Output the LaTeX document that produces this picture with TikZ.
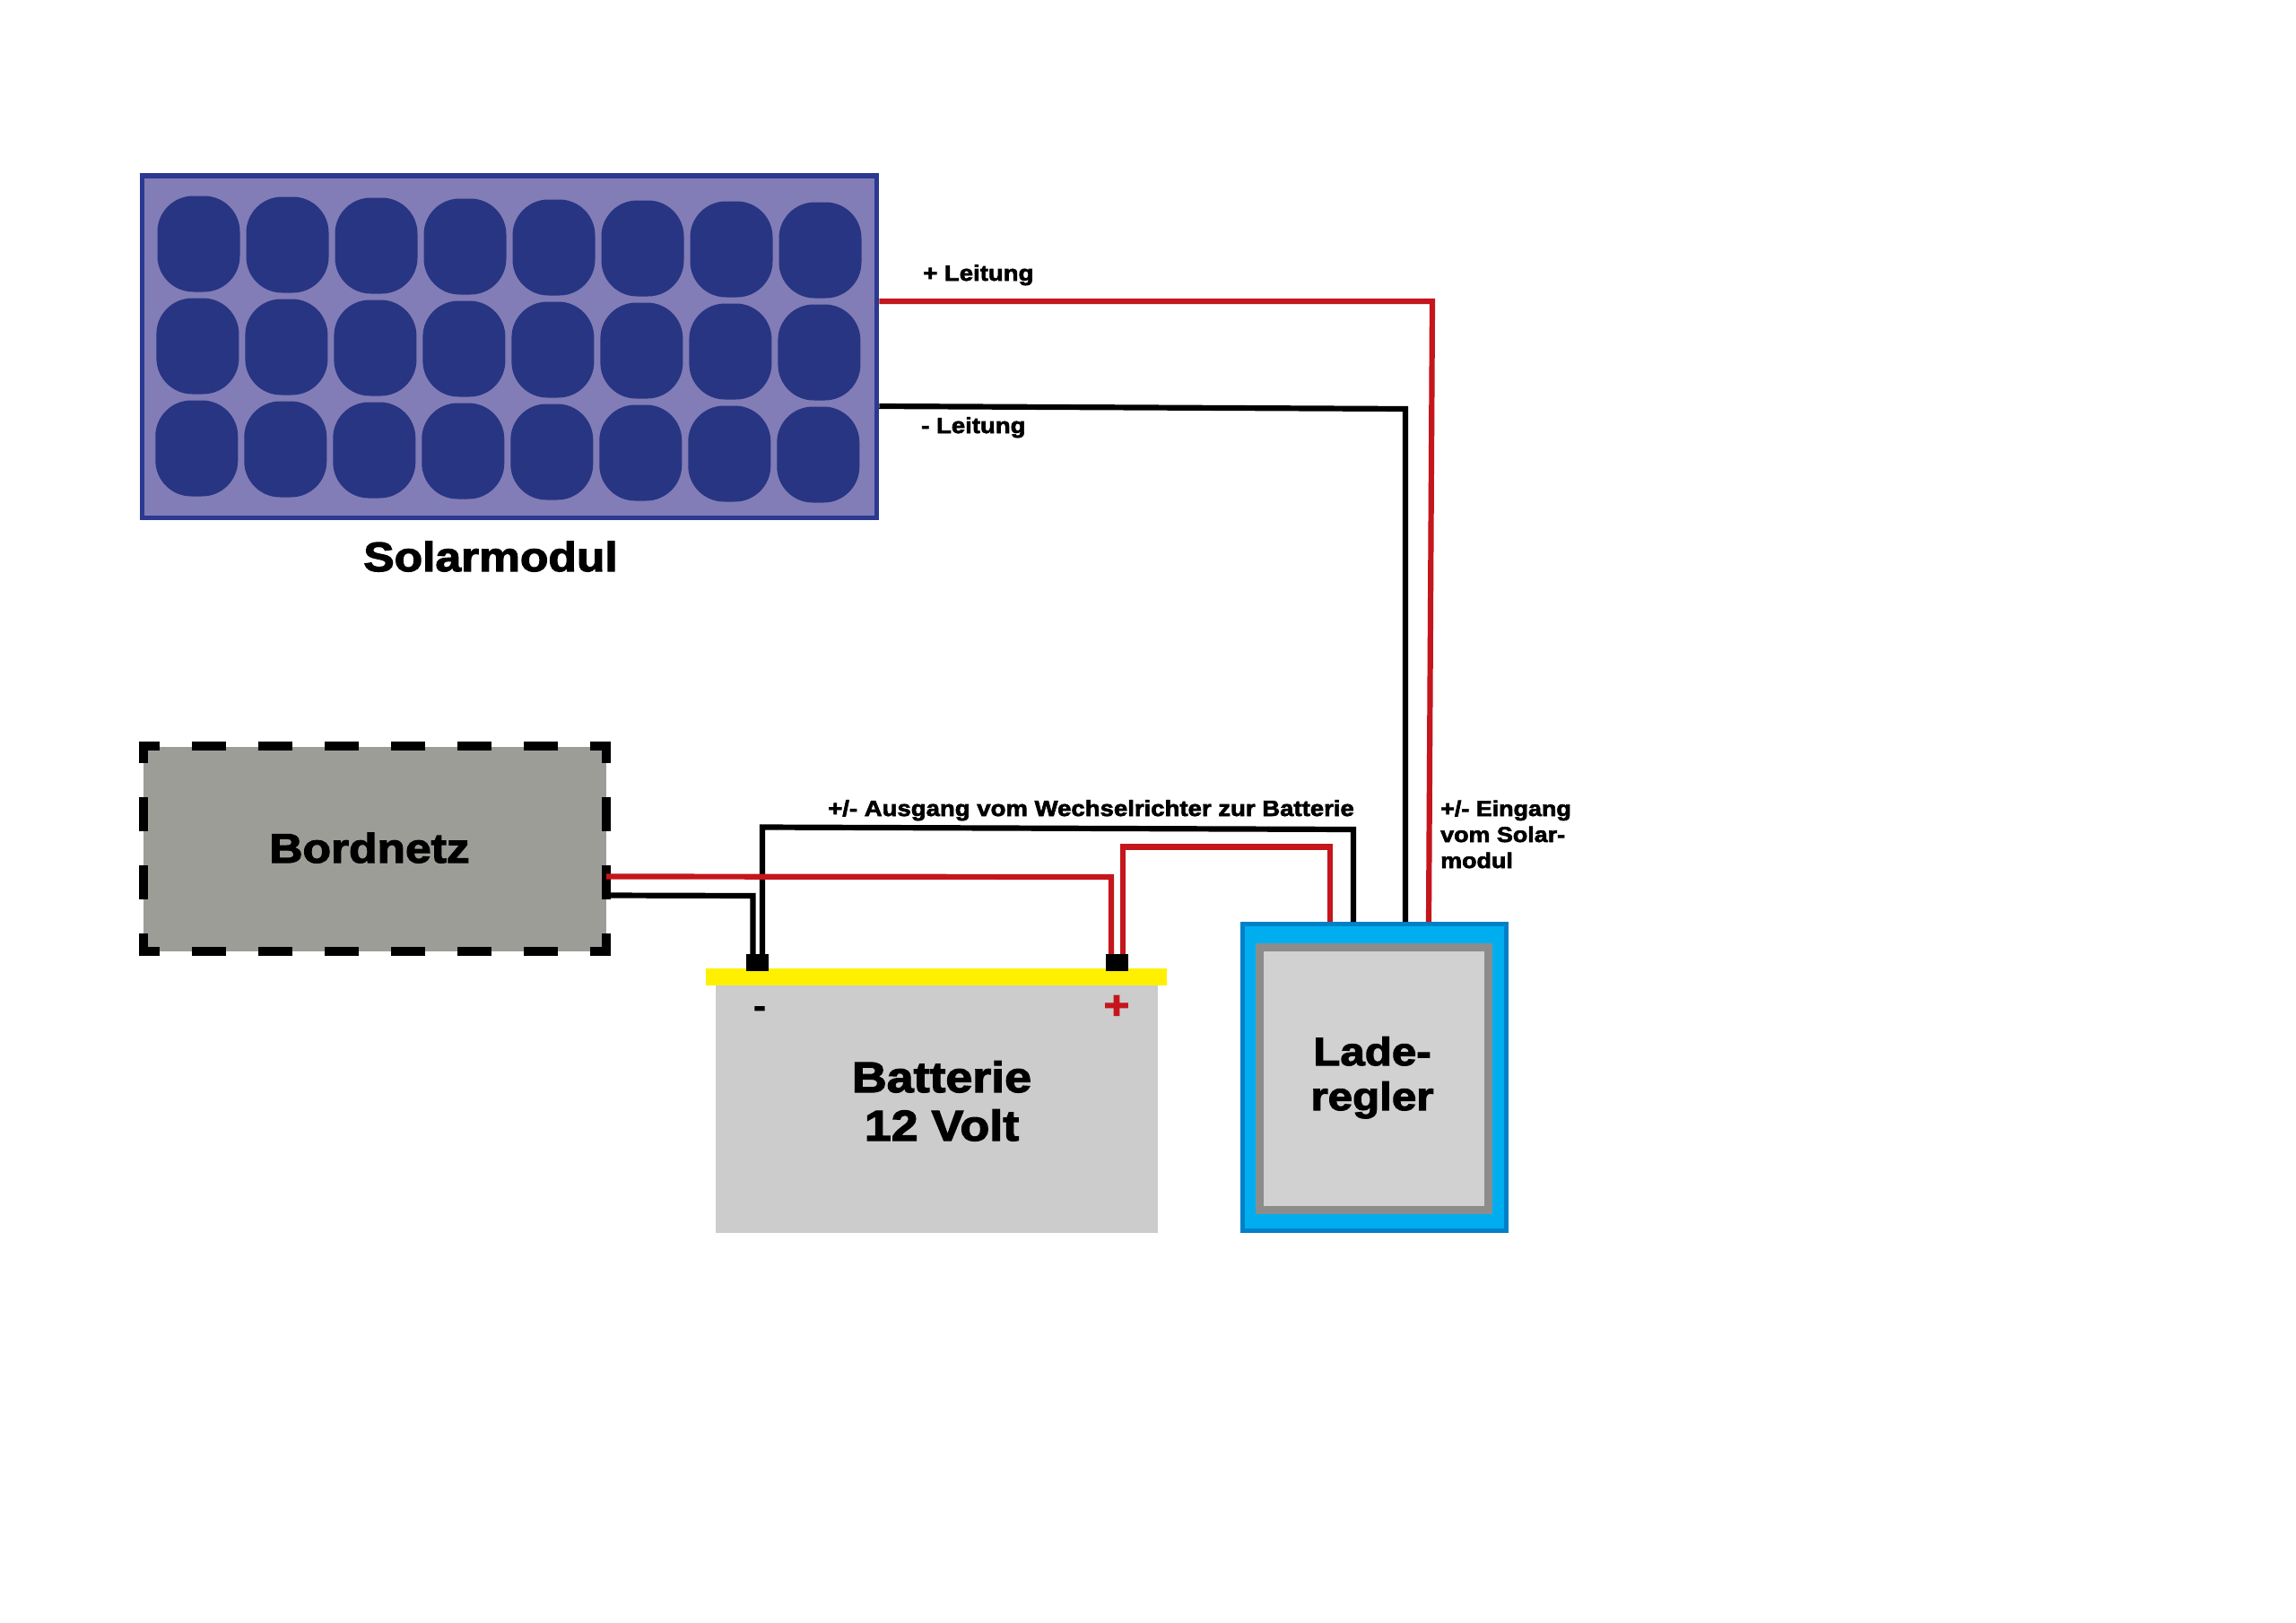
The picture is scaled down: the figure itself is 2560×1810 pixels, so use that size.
\documentclass[tikz,border=0pt]{standalone}
\usepackage{fontspec}
\setmainfont{Liberation Sans}[UprightFont=* Bold, FakeBold=2.6, FakeStretch=1.12]
\definecolor{modulefill}{HTML}{827DB6}
\definecolor{moduleline}{HTML}{2B3990}
\definecolor{cellfill}{HTML}{283583}
\definecolor{netzfill}{HTML}{9D9D98}
\definecolor{wirered}{HTML}{C4161C}
\definecolor{lidyellow}{HTML}{FFF000}
\definecolor{reglerblue}{HTML}{00AEEF}
\definecolor{reglerline}{HTML}{0080C6}
\begin{document}
\begin{tikzpicture}[x=1pt, y=-1pt]
        \tikzstyle{cell}=[fill=cellfill,rounded corners=40pt,minimum width=92pt,minimum height=107pt,inner sep=0pt]
        \tikzstyle{wire}=[line width=6.2pt,line join=miter]
        \tikzstyle{terminal}=[fill=black,minimum width=25pt,minimum height=19pt,inner sep=0pt]
        \tikzstyle{small}=[inner sep=0pt,anchor=base west,font=\fontsize{24.6}{29}\selectfont]
        \tikzstyle{big}=[inner sep=0pt,anchor=base,align=center,font=\fontsize{46}{52}\selectfont]

        \useasboundingbox (0,0) rectangle (2560,1810);

        % solar module
        \node[draw=moduleline,fill=modulefill,line width=5.5pt,minimum width=819pt,minimum height=381.5pt,inner sep=0pt](module) at (568,386.5){};
        \foreach \r in {0,1,2}
        \foreach \c in {0,...,7}{
                \pgfmathsetmacro{\cx}{221.5+99*\c-1.1*\r}
                \pgfmathsetmacro{\cy}{272+\c+114*\r}
                \node[cell](cell-\r-\c) at (\cx,\cy){};
        }
        \node[big](modulelabel) at (547,637){Solarmodul};

        % on-board supply
        \node[fill=netzfill,minimum width=516pt,minimum height=228pt,inner sep=0pt](netz) at (418,946.5){};
        \tikzstyle{frameh}=[line width=10pt,line cap=rect,dash pattern=on 28pt off 46pt,dash phase=15pt]
        \tikzstyle{framev}=[line width=10pt,line cap=rect,dash pattern=on 28pt off 48pt,dash phase=14pt]
        \draw[frameh] (netz.north west) -- (netz.north east);
        \draw[frameh] (netz.south west) -- (netz.south east);
        \draw[framev] (netz.north west) -- (netz.south west);
        \draw[framev] (netz.north east) -- (netz.south east);
        \node[big](netzlabel) at (412,962){Bordnetz};

        % battery
        \node[fill=black!20,minimum width=493pt,minimum height=277pt,inner sep=0pt](batt) at (1044.5,1236.5){};
        \node[fill=lidyellow,minimum width=514pt,minimum height=19pt,inner sep=0pt](lid) at (1044,1089.5){};
        \node[terminal](minus) at (844.5,1073.5){};
        \node[terminal](plus) at (1245,1073.5){};
        \node[inner sep=0pt,anchor=base,font=\fontsize{36}{36}\selectfont](minussign) at (847,1134){-};
        \node[inner sep=0pt,anchor=base,text=wirered,font=\fontsize{44}{44}\selectfont](plussign) at (1245,1136){+};
        \node[big,font=\fontsize{48}{54}\selectfont](battlabel) at (1050,1272){Batterie\\12 Volt};

        % charge controller
        \node[draw=reglerline,fill=reglerblue,line width=5pt,minimum width=294pt,minimum height=342pt,inner sep=0pt](regler) at (1532,1201.5){};
        \node[draw=black!45,fill=black!18,line width=9pt,minimum width=255pt,minimum height=293pt,inner sep=0pt](reglerframe) at (1532,1203){};
        \node[big,font=\fontsize{44}{50}\selectfont](reglerlabel) at (1530,1238){Lade-\\regler};

        % bends of the wires
        \coordinate (plusbend) at (1597,336);
        \coordinate (minusbend) at (1567,456);
        \coordinate (outbend-a) at (1509,925);
        \coordinate (outbend-b) at (850,922.5);
        \coordinate (inbend-a) at (1483,944.5);
        \coordinate (inbend-b) at (1252,944.5);
        \coordinate (netzbend-a) at (839.5,999);
        \coordinate (netzbend-b) at (1239,978);

        \draw[wire,wirered] ([yshift=50.5pt]module.east) -- (plusbend) -- ([xshift=61pt]regler.north);
        \draw[wire] ([yshift=-66.5pt]module.east) -- (minusbend) -- ([xshift=35pt]regler.north);
        \draw[wire] ([xshift=-23pt]regler.north) -- (outbend-a) -- (outbend-b) -- ([xshift=5.5pt]minus.north);
        \draw[wire] ([yshift=-52pt]netz.east) -- (netzbend-a) -- ([xshift=-5pt]minus.north);
        \draw[wire,wirered] ([xshift=-49pt]regler.north) -- (inbend-a) -- (inbend-b) -- ([xshift=7pt]plus.north);
        \draw[wire,wirered] ([yshift=-31pt]netz.east) -- (netzbend-b) -- ([xshift=-6pt]plus.north);

        % wire labels
        \node[small](pluslabel) at (1029,313){+ Leitung};
        \node[small](minuslabel) at (1027,483){- Leitung};
        \node[small](outlabel) at (923,910){+/- Ausgang vom Wechselrichter zur Batterie};
        \node[small,align=left,font=\fontsize{24}{29}\selectfont](inlabel) at (1606,968){+/- Eingang\\vom Solar-\\modul};
\end{tikzpicture}
\end{document}
